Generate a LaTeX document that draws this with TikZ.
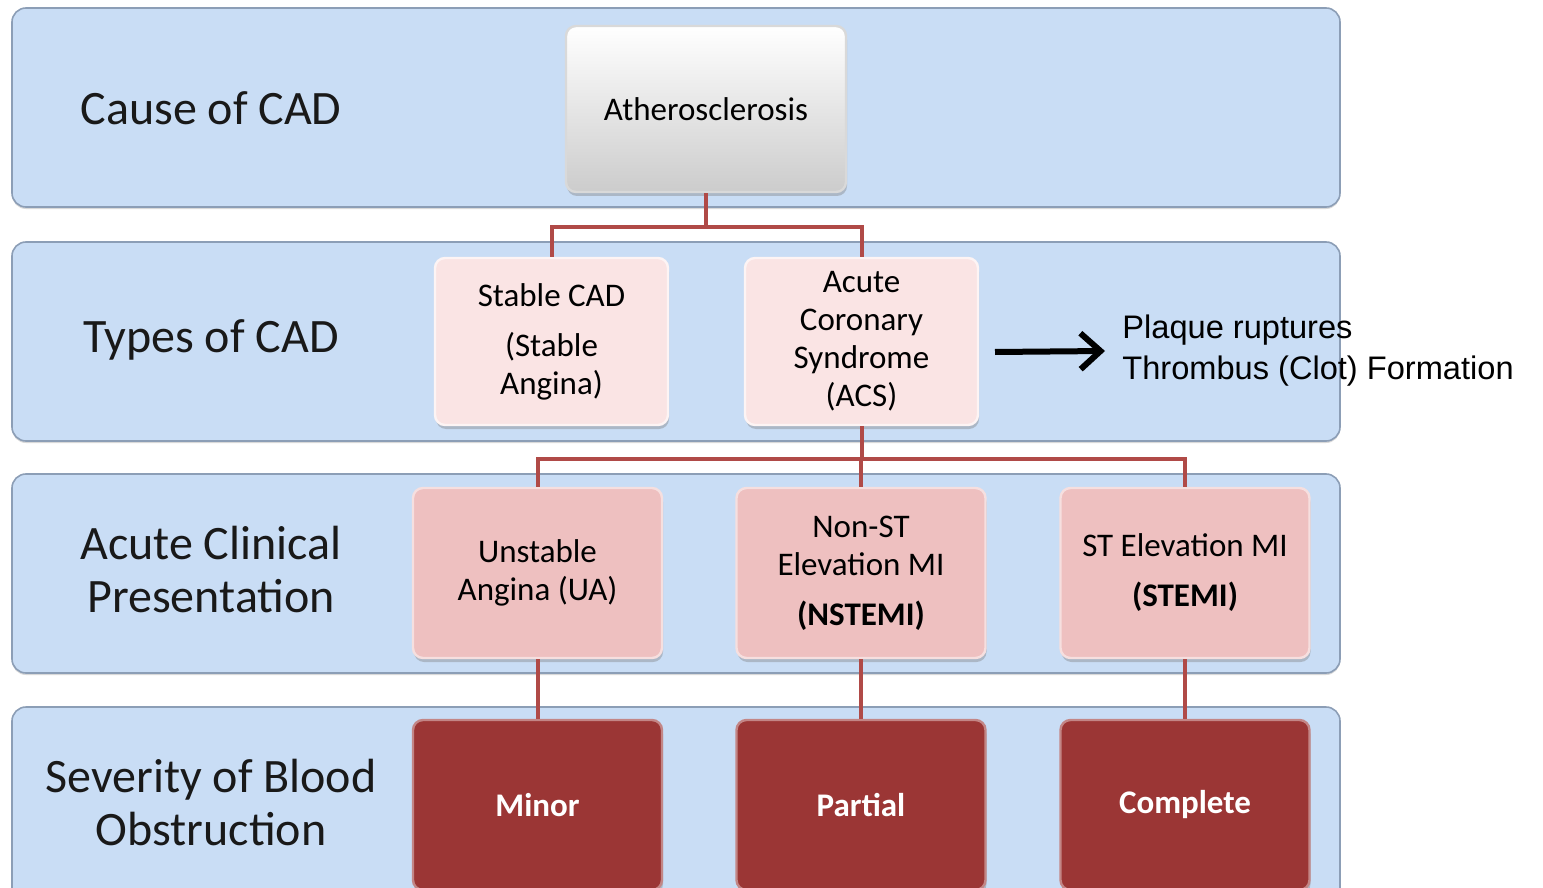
\documentclass[tikz,border=0pt]{standalone}
\usepackage{fontspec}
\setmainfont{Carlito}
\newfontfamily\arialfont{Liberation Sans}
\usetikzlibrary{arrows.meta, shadows, positioning}

\definecolor{bandblue}{RGB}{201,221,245}
\definecolor{bandedge}{RGB}{140,158,182}
\definecolor{linkred}{RGB}{176,74,71}
\definecolor{palepink}{RGB}{250,228,228}
\definecolor{midpink}{RGB}{238,192,192}
\definecolor{darkred}{RGB}{155,54,53}

\begin{document}
\begin{tikzpicture}[
    x=0.5pt, y=-0.5pt,
    every node/.append style = {font=\fontsize{16.5}{19}\selectfont},
    band/.style = {fill=bandblue, draw=bandedge, line width=0.8pt,
      rounded corners=7pt, drop shadow={opacity=0.3, shadow xshift=0pt,
      shadow yshift=-1pt}},
    rowlabel/.style = {align=center, text=black!90,
      font=\fontsize{24}{26.5}\selectfont},
    box/.style = {rounded corners=5pt, align=center, inner sep=2pt,
      line width=1.2pt,
      drop shadow={opacity=0.4, shadow xshift=0.5pt, shadow yshift=-2pt}},
    greybox/.style = {box, draw=white!85!black, top color=white,
      bottom color=white!80!black, minimum width=140pt, minimum height=83pt},
    typebox/.style = {box, fill=palepink, draw=white!60!palepink,
      minimum width=116.5pt, minimum height=83.5pt},
    acutebox/.style = {box, fill=midpink, draw=white!50!midpink,
      minimum width=124.5pt, minimum height=85pt},
    severebox/.style = {box, fill=darkred, draw=darkred!60!white,
      text=white, minimum width=124.5pt, minimum height=85pt,
      font=\fontsize{16.5}{19}\selectfont\bfseries},
    link/.style = {draw=linkred, line width=2pt}
  ]
  \useasboundingbox (0,0) rectangle (1543,888);
  \clip (0,0) rectangle (1543,888);

  % rows
  \foreach \y in {8,242,474,707} {
    \draw[band] (12,\y) rectangle (1340,\y+199);
  }
  \node[rowlabel] (lcause) at (211,108) {Cause of CAD};
  \node[rowlabel] (ltypes) at (211,340) {Types of CAD};
  \node[rowlabel] (lacute) at (211,570) {Acute Clinical\\Presentation};
  \node[rowlabel] (lsevere) at (211,803) {Severity of Blood\\Obstruction};

  % boxes
  \node[greybox] (ath) at (706,109) {Atherosclerosis};
  \node[typebox] (stable) at (551.5,341.5)
    {Stable CAD\\[6pt](Stable\\Angina)};
  \node[typebox] (acs) at (861.5,341.5)
    {Acute\\Coronary\\Syndrome\\(ACS)};
  \node[acutebox] (ua) at (537.5,573) {Unstable\\Angina (UA)};
  \node[acutebox] (nstemi) at (861,573)
    {Non-ST\\Elevation MI\\[6pt]\textbf{(NSTEMI)}};
  \node[acutebox] (stemi) at (1185,573)
    {ST Elevation MI\\[6pt]\textbf{(STEMI)}};
  \node[severebox] (minor) at (537.5,805) {Minor};
  \node[severebox] (partial) at (861,805) {Partial};
  \node[severebox] (complete) at (1185,805) {Complete};

  % connectors
  \draw[link] (ath.south) -- ++(0,34) -| (stable.north);
  \draw[link] (ath.south) -- ++(0,34) -| (acs.north);
  \foreach \k in {ua,nstemi,stemi} {
    \draw[link] (acs.south) -- ++(0,33) -| (\k.north);
  }
  \draw[link] (ua) -- (minor);
  \draw[link] (nstemi) -- (partial);
  \draw[link] (stemi) -- (complete);

  % plaque rupture note
  \node[anchor=west, align=left, inner xsep=8.5pt,
    font=\arialfont\fontsize{16.3}{20.5}\selectfont] (plaque) at (1105,351)
    {Plaque ruptures\\Thrombus (Clot) Formation};
  \coordinate (arrtail) at (995,352);
  \draw[-{Straight Barb[length=10pt, width=18pt]}, line width=3pt]
    (arrtail) -- (plaque.west);
\end{tikzpicture}
\end{document}
